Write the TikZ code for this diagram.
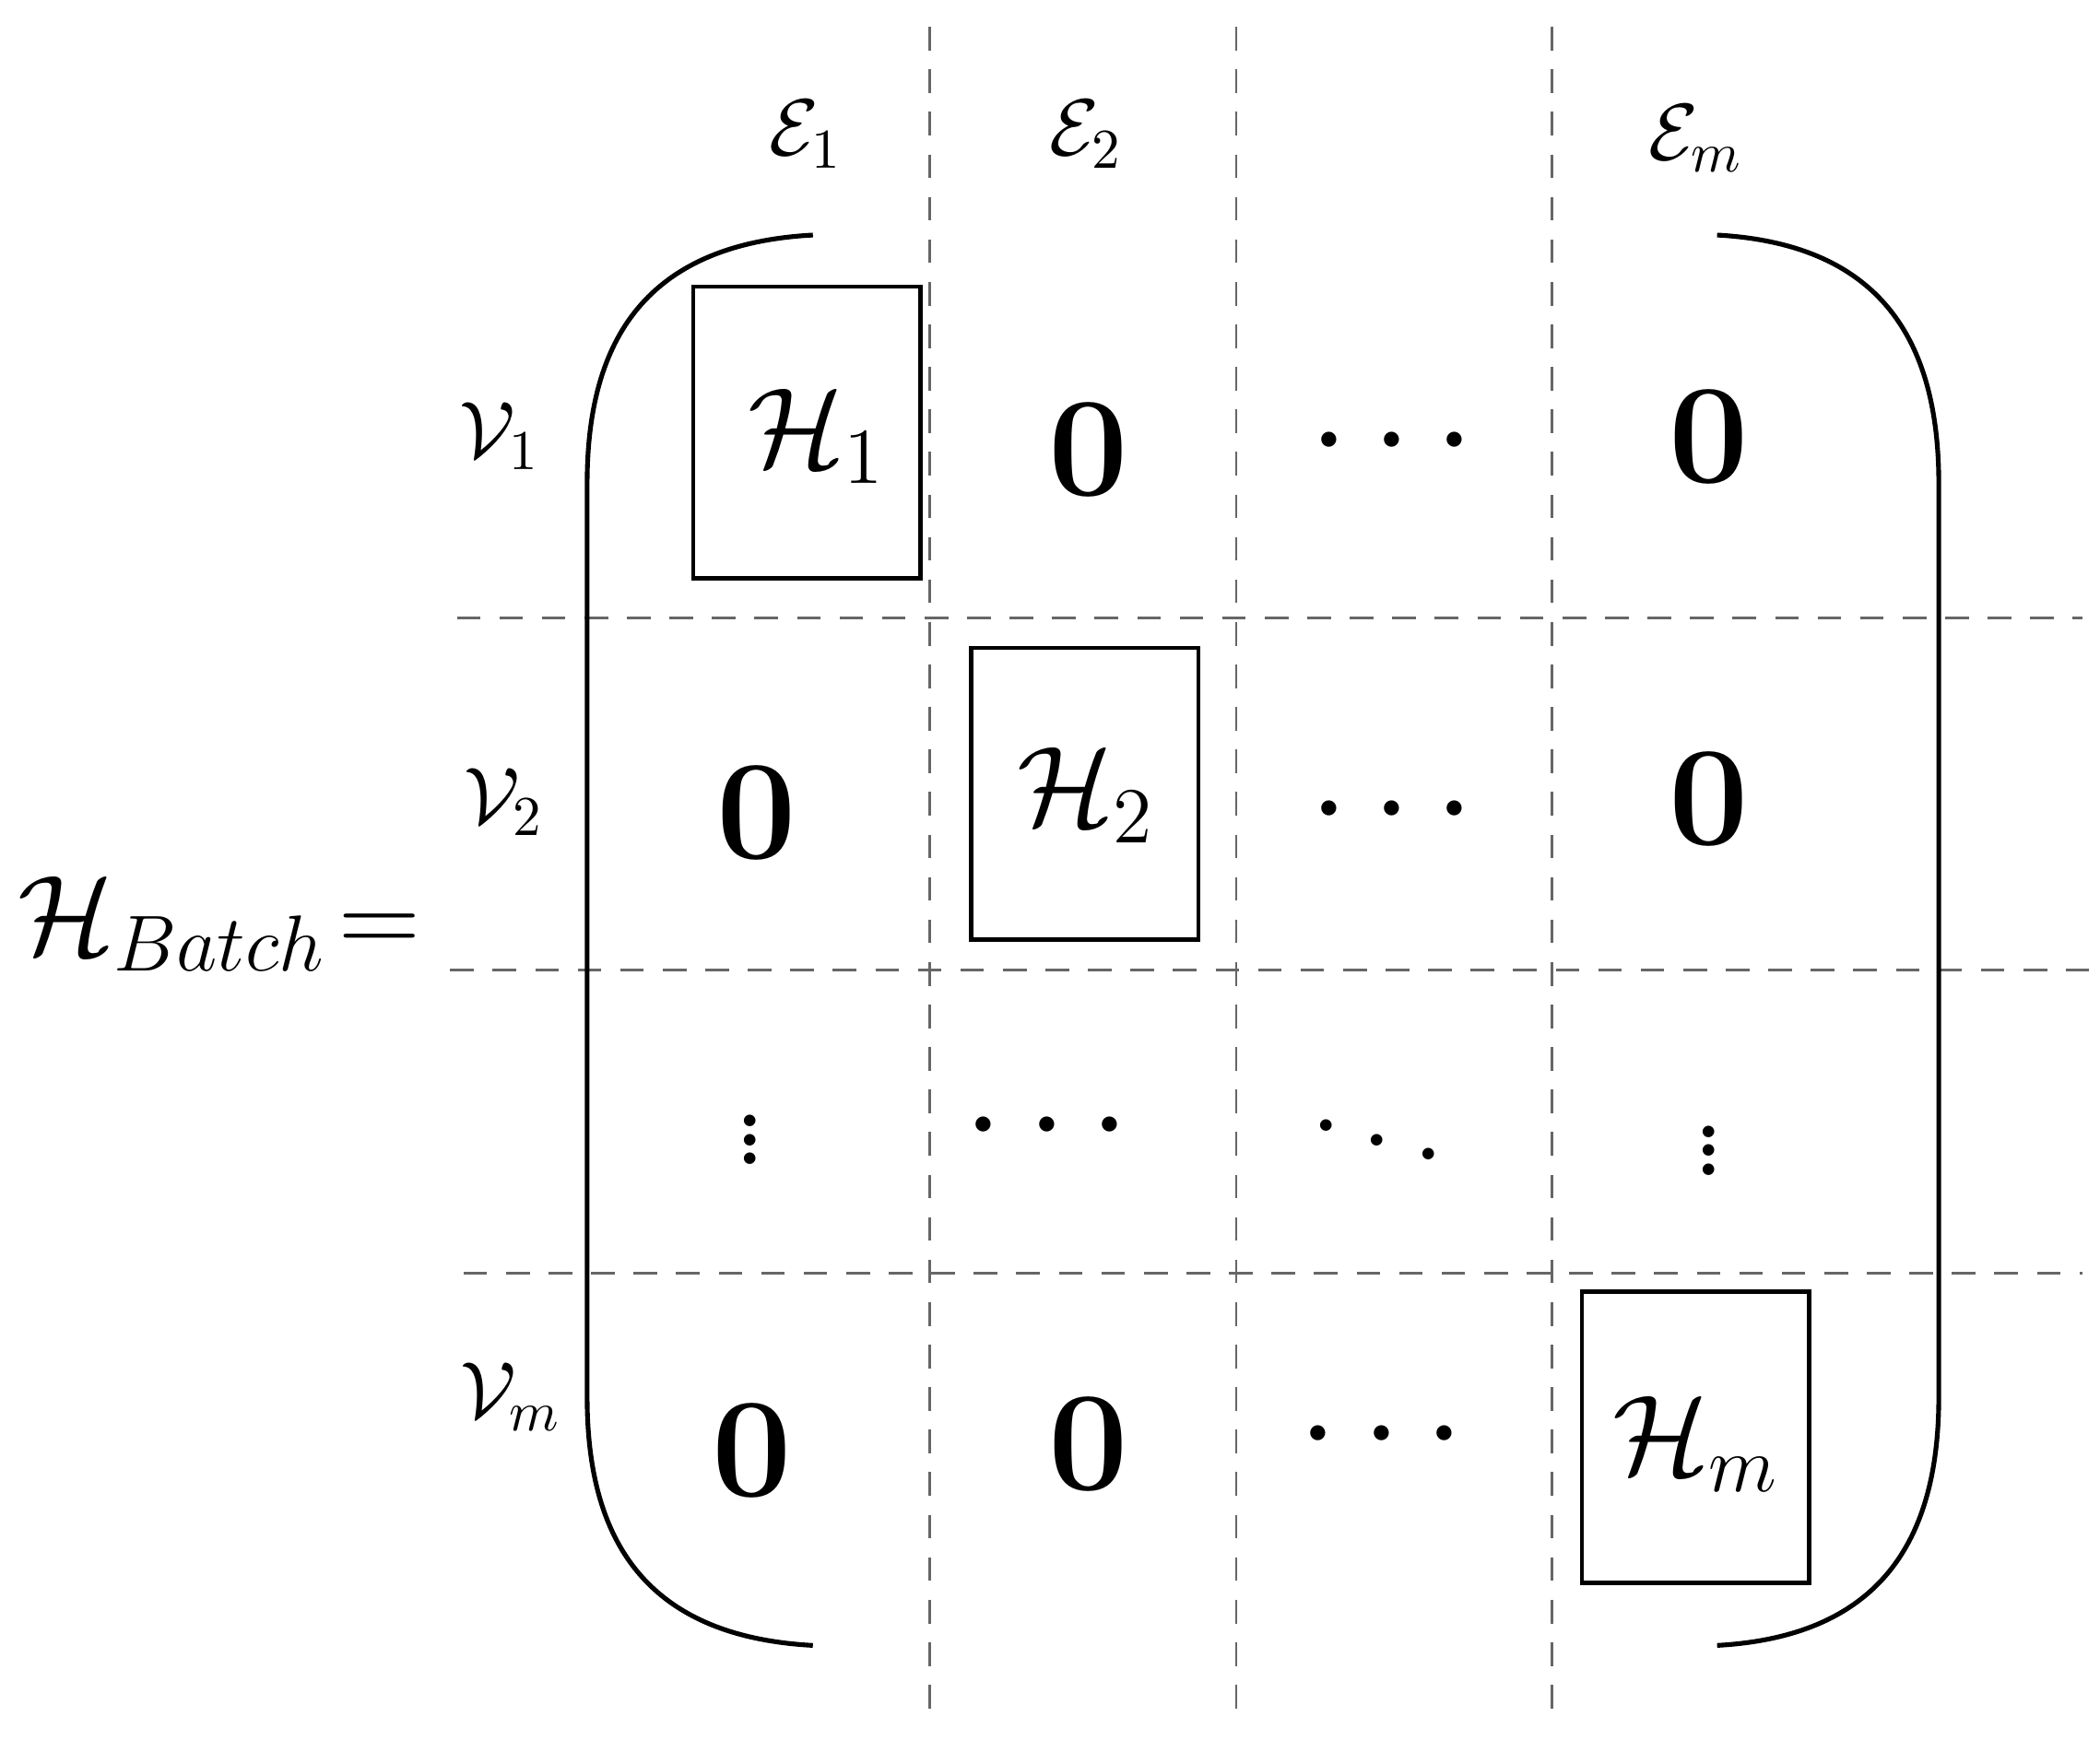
\documentclass[tikz,border=0pt]{standalone}
\usepackage{fix-cm}
\usepackage{amsmath,amssymb}
\begin{document}
\begin{tikzpicture}[x=0.01cm,y=-0.01cm,
 gridline/.style={gray!80!black,line width=0.5pt,dash pattern=on 5pt off 4pt},
 blk/.style={draw,line width=0.9pt,minimum width=1.69cm,minimum height=2.17cm,inner sep=0},
 big/.style={font=\fontsize{30}{36}\selectfont},
 mid/.style={font=\fontsize{24}{28}\selectfont},
 small/.style={font=\fontsize{17}{20}\selectfont}]
\useasboundingbox (0,0) rectangle (1563,1295);
\foreach \x/\n in {692/a,920/b,1155/c}{\coordinate (t\n) at (\x,20); \coordinate (b\n) at (\x,1280); \draw[gridline] (t\n) -- (b\n);}
\coordinate (l1) at (340,460); \coordinate (r1) at (1550,460); \draw[gridline] (l1)--(r1);
\coordinate (l2) at (335,722); \coordinate (r2) at (1555,722); \draw[gridline] (l2)--(r2);
\coordinate (l3) at (345,948); \coordinate (r3) at (1550,948); \draw[gridline] (l3)--(r3);
\draw[line width=1pt] (605,175) .. controls (475,182) and (437,260) .. (437,360) -- (437,1040) .. controls (437,1140) and (475,1218) .. (605,1225);
\draw[line width=1pt] (1278,175) .. controls (1405,182) and (1443,260) .. (1443,360) -- (1443,1040) .. controls (1443,1140) and (1405,1218) .. (1278,1225);
\node[blk] (B1) at (600.5,322) {};
\node[blk] (B2) at (807.5,591) {};
\node[blk] (B3) at (1262,1070) {};
\node[small] (E1) at (600,100) {$\mathcal{E}_1$};
\node[small] (E2) at (808,100) {$\mathcal{E}_2$};
\node[small] (Em) at (1262,103) {$\mathcal{E}_m$};
\node[small] (V1) at (372,325) {$\mathcal{V}_1$};
\node[small] (V2) at (375,597) {$\mathcal{V}_2$};
\node[small] (Vm) at (380,1040) {$\mathcal{V}_m$};
\node[mid] (HB) at (163,688) {$\mathcal{H}_{Batch}\!=$};
\node[mid] (H1) at (608,325) {$\mathcal{H}_1$};
\node[big] (z12) at (810,335) {$\mathbf{0}$};
\node[big] (c13) at (1045,330) {$\cdots$};
\node[big] (z14) at (1272,325) {$\mathbf{0}$};
\node[big] (z21) at (563,605) {$\mathbf{0}$};
\node[mid] (H2) at (808,592) {$\mathcal{H}_2$};
\node[big] (c23) at (1045,605) {$\cdots$};
\node[big] (z24) at (1272,595) {$\mathbf{0}$};
\node[big] (v31) at (558,838) {$\vdots$};
\node[big] (c32) at (788,840) {$\cdots$};
\node[big] (d33) at (1025,838) {$\ddots$};
\node[big] (v34) at (1272,846) {$\vdots$};
\node[big] (z41) at (560,1080) {$\mathbf{0}$};
\node[big] (z42) at (810,1075) {$\mathbf{0}$};
\node[big] (c43) at (1037,1070) {$\cdots$};
\node[mid] (Hm) at (1262,1075) {$\mathcal{H}_m$};
\end{tikzpicture}
\end{document}
